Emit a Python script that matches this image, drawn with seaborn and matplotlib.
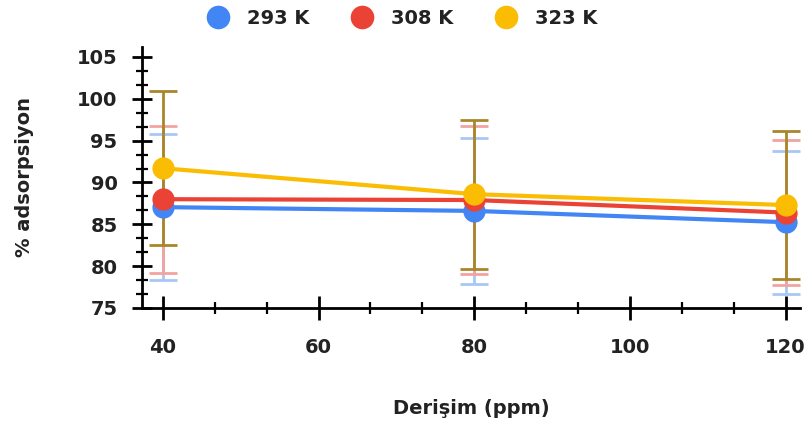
import numpy as np
import pandas as pd
import matplotlib
matplotlib.use("Agg")
import matplotlib.pyplot as plt
from matplotlib.ticker import MultipleLocator
import seaborn as sns

# Data
concentration = [40, 80, 120]
temps = ["293 K", "308 K", "323 K"]
ads_293 = [87.05, 86.6, 85.25]
ads_308 = [88.0, 87.9, 86.4]
ads_323 = [91.7, 88.6, 87.3]
err_293 = [8.7, 8.7, 8.55]
err_308 = [8.8, 8.8, 8.65]
err_323 = [9.2, 8.9, 8.8]

line_colors = ["#4285f4", "#ea4335", "#fbbc04"]
err_colors = ["#a8c7f5", "#f2a3a0", "#a8862a"]

sns.set_style("white")
plt.rcParams['font.family'] = ['DejaVu Sans']

df = pd.DataFrame({
    "x": concentration * 3,
    "y": ads_293 + ads_308 + ads_323,
    "T": [temps[0]] * 3 + [temps[1]] * 3 + [temps[2]] * 3,
})

fig = plt.figure(figsize=(8.06, 4.26), dpi=100)
ax = fig.add_axes([0.176, 0.277, 0.817, 0.613])

errs = [err_293, err_308, err_323]
means = [ads_293, ads_308, ads_323]
for m, e, c in zip(means, errs, err_colors):
    ax.errorbar(concentration, m, yerr=e, fmt="none", ecolor=c, elinewidth=2,
                capsize=10, capthick=2, zorder=1)

sns.lineplot(data=df, x="x", y="y", hue="T", palette=line_colors, marker="o",
             markersize=16, markeredgewidth=0, linewidth=3, ax=ax, legend=False,
             zorder=3)

ax.set_xlim(37.3, 121.9)
ax.set_ylim(75, 106.2)
ax.set_xticks([40, 60, 80, 100, 120])
ax.set_yticks([75, 80, 85, 90, 95, 100, 105])
ax.xaxis.set_minor_locator(MultipleLocator(20 / 3))
ax.yaxis.set_minor_locator(MultipleLocator(5 / 3))

for s in ["top", "right"]:
    ax.spines[s].set_visible(False)
for s in ["left", "bottom"]:
    ax.spines[s].set_color("black")
    ax.spines[s].set_linewidth(2)

ax.tick_params(axis="both", which="both", bottom=True, left=True, top=False, right=False)
ax.tick_params(axis="x", which="major", direction="inout", length=17, width=2,
               color="black", labelsize=14, labelcolor="#222222", pad=13)
ax.tick_params(axis="y", which="major", direction="inout", length=15, width=2,
               color="black", labelsize=14, labelcolor="#222222", pad=10)
ax.tick_params(axis="both", which="minor", direction="inout", length=8, width=1.6,
               color="black")
for lab in ax.get_xticklabels() + ax.get_yticklabels():
    lab.set_fontweight("bold")

ax.set_xlabel("Derişim (ppm)", fontsize=14, fontweight="bold", color="#222222", labelpad=30)
ax.set_ylabel("% adsorpsiyon", fontsize=14, fontweight="bold", color="#222222", labelpad=31)

handles = [plt.Line2D([], [], marker="o", linestyle="none", markersize=17,
                      markerfacecolor=c, markeredgewidth=0) for c in line_colors]
leg = fig.legend(handles, temps, loc="upper center", bbox_to_anchor=(0.494, 1.02), ncol=3,
                 frameon=False, prop={"weight": "bold", "size": 14},
                 handletextpad=0.5, columnspacing=1.7)
for t in leg.get_texts():
    t.set_color("#222222")

fig.savefig("out.png", dpi=100)
